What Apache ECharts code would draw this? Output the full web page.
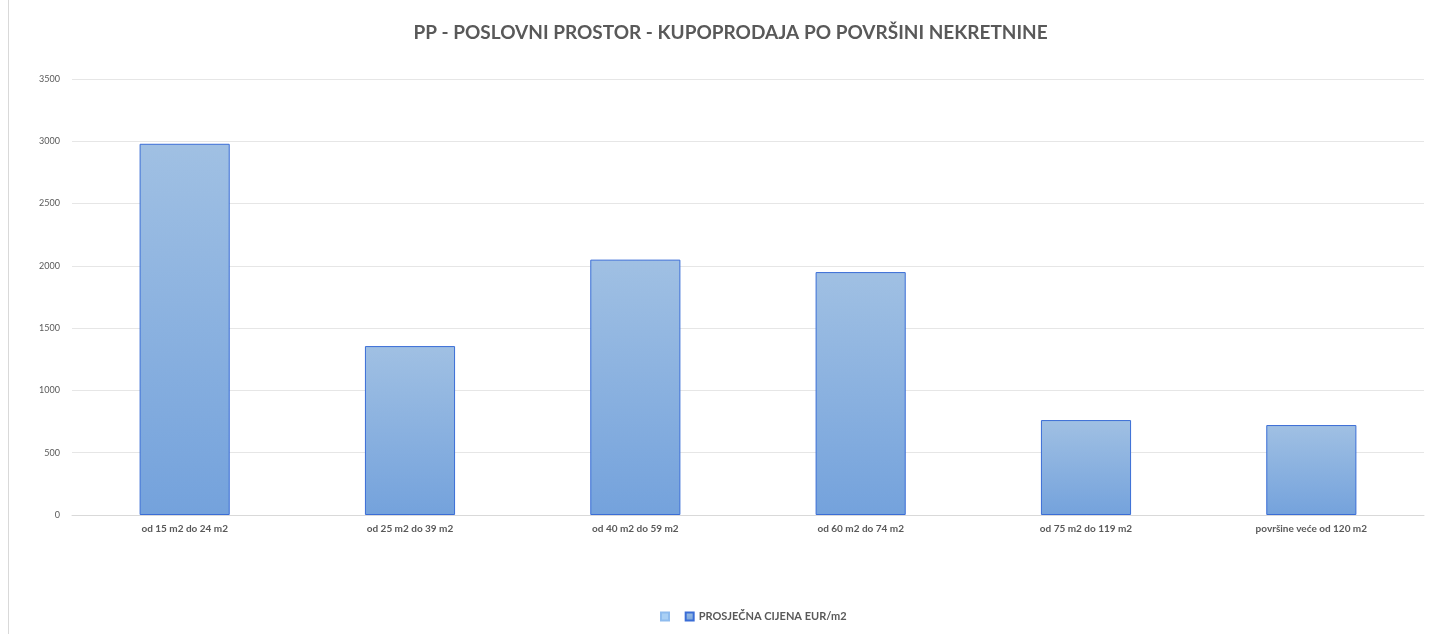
<!DOCTYPE html>
<html>
<head>
<meta charset="utf-8">
<script src="https://cdn.jsdelivr.net/npm/echarts@6/dist/echarts.min.js"></script>
<style>
  html, body { margin: 0; padding: 0; background: #fff; overflow: hidden; }
  #chart { position: absolute; left: 8px; top: 0; width: 1444px; height: 640px; border-left: 1px solid #d9d9d9; box-sizing: border-box; }
</style>
</head>
<body>
<div id="chart"></div>
<script>
const categories = ['od 15 m2 do 24 m2', 'od 25 m2 do 39 m2', 'od 40 m2 do 59 m2', 'od 60 m2 do 74 m2', 'od 75 m2 do 119 m2', 'površine veće od 120 m2'];
const prices = [2980, 1356, 2050, 1950, 762, 722];
const yTicks = [0, 500, 1000, 1500, 2000, 2500, 3000, 3500];

const chart = echarts.init(document.getElementById('chart'));
const font = 'Lato, "Open Sans", sans-serif';
chart.setOption({
  animation: false,
  title: {
    text: 'PP - POSLOVNI PROSTOR - KUPOPRODAJA PO POVRŠINI NEKRETNINE',
    left: 'center',
    top: 18,
    textStyle: { fontFamily: font, fontSize: 19, fontWeight: 'bold', color: '#595959' }
  },
  legend: {
    bottom: 13,
    left: 646,
    itemWidth: 8,
    itemHeight: 8,
    itemGap: 8,
    icon: 'rect',
    textStyle: { fontFamily: font, fontSize: 11, fontWeight: 'bold', color: '#595959' }
  },
  grid: { left: 63, right: 28, top: 79, bottom: 125 },
  xAxis: {
    type: 'category',
    data: categories,
    axisLine: { lineStyle: { color: '#d9d9d9' } },
    axisTick: { show: false },
    axisLabel: { fontFamily: font, fontSize: 10, fontWeight: 'bold', color: '#595959', margin: 9 }
  },
  yAxis: {
    type: 'value',
    min: yTicks[0],
    max: yTicks[yTicks.length - 1],
    interval: 500,
    axisLine: { show: false },
    axisTick: { show: false },
    splitLine: { lineStyle: { color: '#e6e6e6' } },
    axisLabel: { fontFamily: font, fontSize: 9, color: '#595959', margin: 12, formatter: v => String(v) }
  },
  series: [
    {
      name: ' ',
      type: 'bar',
      stack: 'a',
      data: [],
      itemStyle: { color: '#a9d0f5', borderColor: '#8fbcee', borderWidth: 1 }
    },
    {
      name: 'PROSJEČNA CIJENA EUR/m2',
      type: 'bar',
      stack: 'a',
      barWidth: '40%',
      data: prices,
      itemStyle: {
        color: new echarts.graphic.LinearGradient(0, 0, 0, 1, [
          { offset: 0, color: '#a0c0e3' },
          { offset: 1, color: '#74a2dc' }
        ]),
        borderColor: '#3a6dd6',
        borderWidth: 1
      }
    }
  ]
});
</script>
</body>
</html>
